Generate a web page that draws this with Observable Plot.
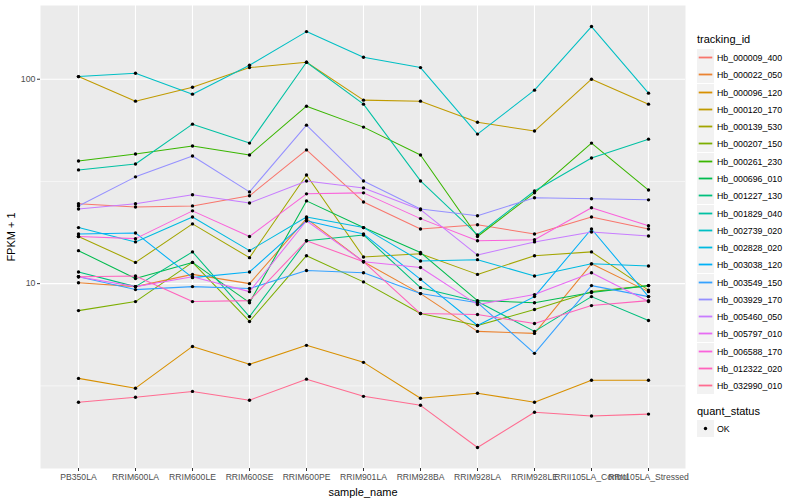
<!DOCTYPE html>
<html>
<head>
<meta charset="utf-8">
<script src="https://cdn.jsdelivr.net/npm/d3@7"></script>
<script src="https://cdn.jsdelivr.net/npm/@observablehq/plot@0.6"></script>
<style>
  html, body { margin: 0; padding: 0; background: white; }
  #wrap { position: relative; width: 800px; height: 500px; font-family: "Liberation Sans", Arial, sans-serif; }
  #legend { position: absolute; left: 697px; top: 0; width: 103px; }
  .ltitle { position: absolute; left: 0; font-size: 11px; color: #000; white-space: nowrap; }
  .lrow { position: absolute; left: 0; height: 17px; display: flex; align-items: center; white-space: nowrap; }
  .lkey { width: 17px; height: 17px; background: #F2F2F2; position: relative; margin-right: 3px; }
  .lkey svg { position: absolute; left: 0; top: 0; }
  .llab { font-size: 8.8px; color: #000; }
</style>
</head>
<body>
<div id="wrap"><div id="chart"></div><div id="legend"></div></div>
<script>
// ---- data ----
const samples = ["PB350LA","RRIM600LA","RRIM600LE","RRIM600SE","RRIM600PE","RRIM901LA","RRIM928BA","RRIM928LA","RRIM928LE","RRII105LA_Control","RRII105LA_Stressed"];
const ids = ["Hb_000009_400","Hb_000022_050","Hb_000096_120","Hb_000120_170","Hb_000139_530","Hb_000207_150","Hb_000261_230","Hb_000696_010","Hb_001227_130","Hb_001829_040","Hb_002739_020","Hb_002828_020","Hb_003038_120","Hb_003549_150","Hb_003929_170","Hb_005460_050","Hb_005797_010","Hb_006588_170","Hb_012322_020","Hb_032990_010"];
const colors = ["#F8766D","#EA8331","#D89000","#C09B00","#A3A500","#7CAE00","#39B600","#00BB4E","#00BF7D","#00C1A3","#00BFC4","#00BAE0","#00B0F6","#35A2FF","#9590FF","#C77CFF","#E76BF3","#FA62DB","#FF62BC","#FF6C91"];
const yTicks = [10, 100];
const yMinor = [3.162, 31.62];

const hb_000009_400 = [24.6, 23.7, 24.0, 26.9, 45.1, 25.1, 18.5, 19.4, 17.5, 21.2, 18.5];
const hb_000022_050 = [10.1, 9.67, 11.1, 10.0, 20.8, 12.8, 8.94, 5.84, 5.71, 12.5, 9.14];
const hb_000096_120 = [3.44, 3.08, 4.93, 4.03, 4.99, 4.12, 2.75, 2.91, 2.63, 3.37, 3.37];
const hb_000120_170 = [103, 78.1, 91.4, 114, 121, 79.0, 78.1, 61.6, 55.8, 100, 75.5];
const hb_000139_530 = [17.0, 12.7, 19.6, 13.4, 34.0, 13.5, 14.0, 11.1, 13.7, 14.3, 9.3];
const hb_000207_150 = [7.38, 8.17, 12.7, 6.53, 13.7, 10.2, 7.14, 6.24, 7.47, 9.14, 9.78];
const hb_000261_230 = [39.8, 43.1, 47.1, 42.6, 73.8, 58.3, 42.6, 17.0, 27.8, 48.7, 28.7];
const hb_000696_010 = [14.5, 10.6, 12.7, 8.07, 25.4, 18.8, 14.2, 8.26, 8.07, 9.04, 9.78];
const hb_001227_130 = [11.4, 9.67, 14.3, 6.90, 16.2, 17.3, 9.56, 8.17, 5.84, 8.64, 6.60];
const hb_001829_040 = [36.0, 38.5, 60.3, 48.7, 121, 75.5, 31.8, 17.3, 28.4, 41.2, 50.9];
const hb_002739_020 = [103, 107, 84.5, 117, 171, 128, 114, 53.9, 88.4, 181, 85.5];
const hb_002828_020 = [18.8, 16.0, 21.2, 14.5, 21.2, 18.8, 12.9, 13.1, 10.9, 12.5, 12.2];
const hb_003038_120 = [17.5, 17.7, 10.7, 11.4, 20.3, 17.5, 10.5, 6.24, 8.64, 18.5, 8.64];
const hb_003549_150 = [10.8, 9.35, 9.67, 9.46, 11.6, 11.3, 8.94, 8.07, 4.56, 9.78, 8.64];
const hb_003929_170 = [24.0, 33.3, 42.1, 28.1, 59.6, 31.8, 23.2, 21.5, 26.3, 26.0, 25.7];
const hb_005460_050 = [23.2, 24.6, 27.2, 24.8, 31.8, 29.4, 23.0, 13.8, 16.0, 17.9, 17.1];
const hb_005797_010 = [10.8, 9.67, 10.8, 9.14, 20.3, 12.8, 12.0, 7.90, 8.84, 11.3, 8.17];
const hb_006588_170 = [17.0, 16.6, 22.7, 17.0, 27.5, 27.8, 20.8, 16.2, 16.4, 23.5, 19.2];
const hb_012322_020 = [10.8, 10.9, 8.17, 8.26, 16.2, 12.8, 7.14, 7.06, 6.38, 7.81, 8.26];
const hb_032990_010 = [2.63, 2.78, 2.97, 2.69, 3.41, 2.81, 2.54, 1.58, 2.35, 2.25, 2.30];

const seriesValues = [hb_000009_400, hb_000022_050, hb_000096_120, hb_000120_170, hb_000139_530,
  hb_000207_150, hb_000261_230, hb_000696_010, hb_001227_130, hb_001829_040, hb_002739_020,
  hb_002828_020, hb_003038_120, hb_003549_150, hb_003929_170, hb_005460_050, hb_005797_010,
  hb_006588_170, hb_012322_020, hb_032990_010];

// ---- long table ----
const data = [];
ids.forEach((id, i) => seriesValues[i].forEach((v, j) => data.push({id, sample: samples[j], value: v, status: "OK"})));

// ggplot-like 5% expansion in log space
const [lmin, lmax] = d3.extent(data, d => Math.log10(d.value));
const pad = (lmax - lmin) * 0.05;
const yDomain = [Math.pow(10, lmin - pad), Math.pow(10, lmax + pad)];

const plot = Plot.plot({
  width: 800,
  height: 500,
  marginLeft: 40,
  marginRight: 115,
  marginTop: 5,
  marginBottom: 32,
  style: {fontFamily: "'Liberation Sans', Arial, sans-serif", background: "white", overflow: "visible"},
  x: {type: "point", domain: samples, padding: 0.6},
  y: {type: "log", domain: yDomain},
  color: {domain: ids, range: colors},
  marks: [
    Plot.frame({fill: "#EBEBEB", stroke: null}),
    Plot.gridY(yMinor, {stroke: "white", strokeOpacity: 1, strokeWidth: 0.55}),
    Plot.gridY(yTicks, {stroke: "white", strokeOpacity: 1, strokeWidth: 1.1}),
    Plot.gridX(samples, {stroke: "white", strokeOpacity: 1, strokeWidth: 1.1}),
    Plot.line(data, {x: "sample", y: "value", z: "id", stroke: "id", strokeWidth: 1.05}),
    Plot.dot(data, {x: "sample", y: "value", fill: "black", r: 1.7, stroke: null}),
    Plot.axisX({tickSize: 3, tickPadding: 2, fontSize: 8.6, stroke: "#333333", fill: "#4D4D4D", label: null}),
    Plot.axisX({ticks: [], tickSize: 0, label: "sample_name", labelAnchor: "center", labelArrow: "none", labelOffset: 27, fontSize: 11, fill: "black"}),
    Plot.axisY(yTicks, {tickSize: 3, tickPadding: 2, fontSize: 8.8, stroke: "#333333", fill: "#4D4D4D", tickFormat: d => String(d), label: null}),
    Plot.axisY({ticks: [], tickSize: 0, label: "FPKM + 1", labelAnchor: "center", labelArrow: "none", labelOffset: 33, fontSize: 11, fill: "black"})
  ]
});
document.getElementById("chart").appendChild(plot);

// ---- legend (HTML, right side) ----
const NS = "http://www.w3.org/2000/svg";
function keySvg(draw) {
  const s = document.createElementNS(NS, "svg");
  s.setAttribute("width", 17); s.setAttribute("height", 17);
  draw(s);
  return s;
}
const legend = document.getElementById("legend");
const t1 = document.createElement("div");
t1.className = "ltitle"; t1.style.top = "33px"; t1.textContent = "tracking_id";
legend.appendChild(t1);
ids.forEach((id, i) => {
  const row = document.createElement("div");
  row.className = "lrow";
  row.style.top = Math.round(49 + i * 17.28) + "px";
  const key = document.createElement("div"); key.className = "lkey";
  key.appendChild(keySvg(s => {
    const l = document.createElementNS(NS, "line");
    l.setAttribute("x1", 1.7); l.setAttribute("x2", 15.3);
    l.setAttribute("y1", 8.5); l.setAttribute("y2", 8.5);
    l.setAttribute("stroke", colors[i]); l.setAttribute("stroke-width", 1.8);
    s.appendChild(l);
  }));
  const lab = document.createElement("span"); lab.className = "llab"; lab.textContent = id;
  row.appendChild(key); row.appendChild(lab);
  legend.appendChild(row);
});
const t2 = document.createElement("div");
t2.className = "ltitle"; t2.style.top = "405px"; t2.textContent = "quant_status";
legend.appendChild(t2);
const okRow = document.createElement("div");
okRow.className = "lrow"; okRow.style.top = "420px";
const okKey = document.createElement("div"); okKey.className = "lkey";
okKey.appendChild(keySvg(s => {
  const c = document.createElementNS(NS, "circle");
  c.setAttribute("cx", 8.5); c.setAttribute("cy", 8.5); c.setAttribute("r", 1.7);
  c.setAttribute("fill", "black");
  s.appendChild(c);
}));
const okLab = document.createElement("span"); okLab.className = "llab"; okLab.textContent = "OK";
okRow.appendChild(okKey); okRow.appendChild(okLab);
legend.appendChild(okRow);
</script>
</body>
</html>
